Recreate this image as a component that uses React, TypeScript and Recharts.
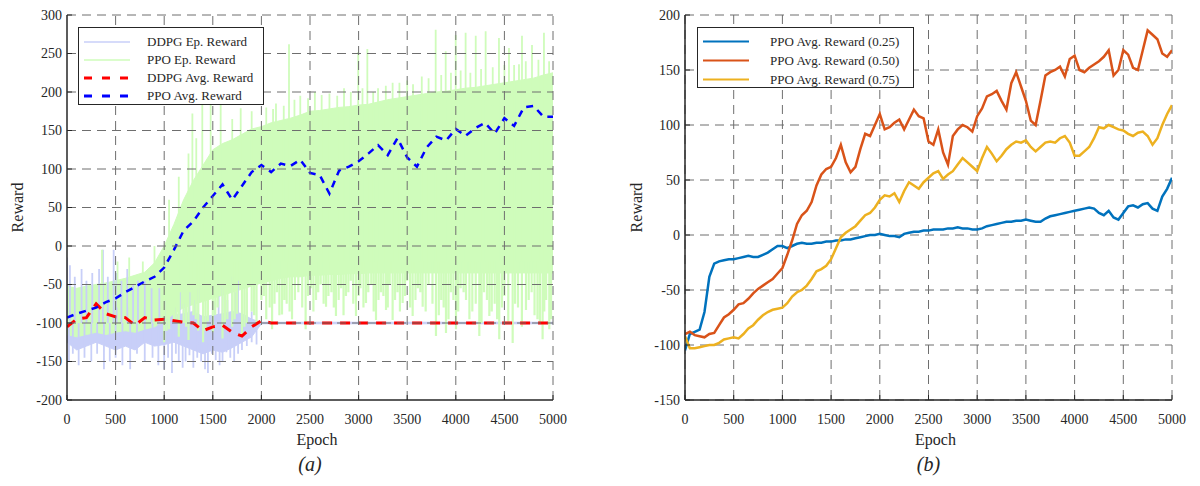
import React from 'react';
import { ComposedChart, LineChart, Line, Area, XAxis, YAxis, CartesianGrid, ReferenceLine, Label } from 'recharts';

const FONT = "'Liberation Serif', 'Times New Roman', Times, serif";
const INK = '#262626';
const GRID = '#6e6e6e';
const DDPG_EP = '#c8cff8';
const PPO_EP = '#cffcbb';
const DDPG_AVG = '#ff0000';
const PPO_AVG = '#0000ff';
const C25 = '#0072bd';
const C50 = '#d95319';
const C75 = '#edb120';

// ---------- Chart (a) ----------
const epochsA = [0, 100, 200, 300, 400, 500, 600, 700, 800, 900, 1000, 1100, 1200, 1300, 1400, 1500, 1600, 1700, 1800, 1900, 2000, 2100, 2200, 2300, 2400, 2500, 2600, 2700, 2800, 2900, 3000, 3100, 3200, 3300, 3400, 3500, 3600, 3700, 3800, 3900, 4000, 4100, 4200, 4300, 4400, 4500, 4600, 4700, 4800, 4900, 5000];

const ddpgEpLow = [-125, -135, -130, -125, -130, -135, -130, -135, -125, -130, -128, -125, -130, -135, -140, -135, -138, -132, -125, -118, -101,
  -101, -101, -101, -101, -101, -101, -101, -101, -101, -101, -101, -101, -101, -101, -101, -101, -101, -101, -101, -101, -101, -101, -101, -101, -101, -101, -101, -101, -101, -101];
const ddpgEpHigh = [-50, -60, -55, -55, -55, -60, -60, -65, -70, -70, -80, -90, -88, -85, -92, -90, -88, -85, -88, -95, -99,
  -99, -99, -99, -99, -99, -99, -99, -99, -99, -99, -99, -99, -99, -99, -99, -99, -99, -99, -99, -99, -99, -99, -99, -99, -99, -99, -99, -99, -99, -99];

const ppoEpLow = [-115, -118, -115, -112, -115, -112, -110, -112, -108, -105, -98,
  -88, -80, -76, -72, -68, -64, -60, -56, -52, -48,
  -45, -42, -40, -40, -38, -38, -37, -37, -36, -36,
  -35, -35, -35, -35, -35, -35, -35, -35, -35, -35,
  -35, -35, -35, -35, -35, -35, -35, -35, -35, -35];
const ppoEpHigh = [-52, -55, -52, -50, -48, -45, -42, -38, -34, -22, 0,
  28, 60, 85, 105, 125, 133, 138, 145, 152, 155,
  160, 163, 166, 170, 175, 176, 178, 180, 181, 183,
  184, 187, 190, 192, 194, 196, 198, 200, 201, 203,
  205, 206, 208, 210, 212, 214, 216, 218, 222, 225];

const ddpgAvg = [-105, -95, -93, -75, -88, -92, -93, -103, -93, -96, -95,
  -97, -99, -100, -110, -105, -103, -112, -117, -105, -97,
  -100, -100, -100, -100, -100, -100, -100, -100, -100, -100,
  -100, -100, -100, -100, -100, -100, -100, -100, -100, -100,
  -100, -100, -100, -100, -100, -100, -100, -100, -100, -100];
const ppoAvg = [-93, -88, -84, -80, -73, -68, -60, -53, -46, -40, -28,
  -5, 20, 32, 50, 65, 80, 60, 78, 96, 105,
  96, 107, 104, 112, 95, 92, 68, 98, 103, 110,
  120, 131, 118, 140, 115, 103, 128, 142, 137, 152,
  143, 153, 160, 146, 166, 156, 180, 182, 168, 168];

// single-episode spikes: epoch and tip value
const ddpgUpEpochs = [0, 30, 80, 150, 200, 260, 330, 370, 420, 480, 510, 560, 620, 680, 730, 800, 870, 950, 1020, 1050, 1110, 1160, 1200, 1260, 1310, 1350, 1400, 1450, 1520, 1560, 1600, 1650, 1700, 1730, 1760, 1800, 1850, 1900];
const ddpgUpTips = [-15, -25, -40, -30, -45, -35, -30, -5, -40, -5, -35, -45, -30, -50, -45, -45, -55, -55, -70, -65, -80, -60, -75, -60, -70, -55, -78, -60, -72, -65, -50, -70, -40, -60, -45, -70, -60, -85];
const ddpgDownEpochs = [20, 60, 120, 180, 250, 310, 380, 440, 500, 570, 650, 720, 800, 880, 940, 1000, 1040, 1080, 1120, 1150, 1190, 1220, 1260, 1300, 1340, 1380, 1420, 1450, 1490, 1530, 1570, 1600, 1640, 1680, 1720, 1760, 1800, 1850, 1900, 1950];
const ddpgDownTips = [-150, -140, -155, -145, -150, -140, -160, -150, -145, -155, -160, -140, -150, -145, -155, -160, -145, -165, -140, -150, -158, -150, -142, -158, -145, -150, -160, -165, -140, -148, -155, -150, -138, -145, -150, -140, -135, -130, -125, -128];

const ppoEarlyEpochs = [360, 520, 640, 780, 900];
const ppoEarlyTips = [-5, -20, -15, -20, 0];

const ppoUpEpochs = [1050, 1150, 1250, 1290, 1330, 1392, 1478, 1581, 1700, 1787, 1900, 2050, 2120, 2150, 2230, 2284, 2340, 2400, 2480, 2550, 2620, 2700, 2780, 2850, 2920, 2996, 3040, 3090, 3150, 3200, 3280, 3350, 3420, 3500, 3560, 3650, 3720, 3793, 3850, 3896, 3950, 3999, 4050, 4101, 4150, 4205, 4260, 4307, 4380, 4444, 4500, 4547, 4600, 4650, 4681, 4720, 4784, 4850, 4907, 4960];
const ppoUpTips = [60, 90, 120, 172, 140, 188, 185, 185, 165, 179, 175, 180, 178, 185, 182, 262, 190, 195, 192, 200, 196, 198, 195, 205, 200, 252, 205, 256, 200, 205, 208, 212, 212, 215, 210, 220, 218, 281, 222, 253, 225, 274, 228, 277, 225, 273, 230, 279, 232, 270, 235, 257, 235, 236, 273, 240, 261, 242, 277, 240];
const ppoDownEpochs = [1000, 1050, 1100, 1150, 1200, 1250, 1300, 1350, 1400, 1450, 1500, 1550, 1600, 1650, 1700, 1750, 1800, 1850, 1900, 1950,
  2000, 2050, 2110, 2160, 2212, 2260, 2315, 2380, 2455, 2510,
  2562, 2610, 2665, 2720, 2767, 2820, 2870, 2920, 2973, 3020,
  3076, 3130, 3179, 3230, 3282, 3320, 3350, 3400, 3453, 3500,
  3556, 3610, 3659, 3720, 3796, 3850, 3899, 3950, 4002, 4050,
  4105, 4170, 4242, 4290, 4345, 4400, 4447, 4500, 4585, 4640,
  4722, 4780, 4840, 4893, 4930, 4962];
const ppoDownTips = [-125, -108, -95, -118, -100, -122, -90, -110, -125, -98, -112, -80, -120, -95, -105, -88, -115, -100, -85, -103,
  -70, -95, -108, -60, -89, -75, -95, -60, -108, -55,
  -70, -50, -79, -60, -91, -55, -65, -45, -91, -55,
  -74, -50, -96, -60, -83, -50, -96, -60, -74, -45,
  -91, -55, -79, -50, -117, -70, -113, -60, -108, -55,
  -70, -85, -117, -60, -91, -75, -121, -65, -126, -80,
  -83, -60, -95, -121, -70, -108];
const ppoDownEpochsB = [1025, 1125, 1225, 1325, 1425, 1525, 1625, 1725, 1825, 1925,
  2025, 2085, 2135, 2185, 2236, 2290, 2345, 2420, 2480, 2535, 2585, 2640, 2690, 2745, 2795, 2845, 2895, 2945, 3000, 3050,
  3100, 3155, 3205, 3255, 3300, 3375, 3425, 3478, 3530, 3585, 3635, 3690, 3760, 3825, 3875, 3925, 3975, 4025, 4080, 4140,
  4205, 4265, 4320, 4370, 4425, 4475, 4540, 4610, 4680, 4750, 4810, 4865, 4910, 4980];
const ppoDownTipsB = [-110, -100, -105, -95, -110, -90, -100, -95, -105, -90,
  -65, -80, -75, -90, -70, -85, -70, -80, -65, -85, -60, -75, -65, -80, -70, -90, -60, -75, -65, -80,
  -60, -85, -70, -65, -80, -70, -85, -65, -80, -70, -60, -85, -75, -90, -80, -95, -70, -85, -60, -95,
  -75, -100, -70, -85, -95, -80, -100, -75, -105, -70, -90, -100, -85, -95];

const xTicks = [0, 500, 1000, 1500, 2000, 2500, 3000, 3500, 4000, 4500, 5000];
const yTicksA = [-200, -150, -100, -50, 0, 50, 100, 150, 200, 250, 300];
const yTicksB = [-150, -100, -50, 0, 50, 100, 150, 200];

const legendLabelsA = ['DDPG Ep. Reward', 'PPO Ep. Reward', 'DDPG Avg. Reward', 'PPO Avg. Reward'];
const legendColorsA = [DDPG_EP, PPO_EP, DDPG_AVG, PPO_AVG];
const legendDashedA = [false, false, true, true];

// ---------- Chart (b) ----------
const epochsB = [0, 50, 100, 150, 200, 250, 300, 350, 400, 450, 500, 550, 600, 650, 700, 750, 800, 850, 900, 950,
  1000, 1050, 1100, 1150, 1200, 1250, 1300, 1350, 1400, 1450, 1500, 1550, 1600, 1650, 1700, 1750, 1800, 1850, 1900, 1950,
  2000, 2050, 2100, 2150, 2200, 2250, 2300, 2350, 2400, 2450, 2500, 2550, 2600, 2650, 2700, 2750, 2800, 2850, 2900, 2950,
  3000, 3050, 3100, 3150, 3200, 3250, 3300, 3350, 3400, 3450, 3500, 3550, 3600, 3650, 3700, 3750, 3800, 3850, 3900, 3950,
  4000, 4050, 4100, 4150, 4200, 4250, 4300, 4350, 4400, 4450, 4500, 4550, 4600, 4650, 4700, 4750, 4800, 4850, 4900, 4950, 5000];

const reward25 = [-105, -90, -88, -86, -70, -38, -26, -24, -23, -22,
  -22, -21, -20, -19, -20, -20, -18, -16, -13, -10,
  -10, -12, -10, -8, -7, -8, -8, -7, -7, -6,
  -6, -5, -5, -4, -4, -3, -2, -1, 0, 0,
  1, 0, -1, -1, -2, 1, 2, 3, 3, 4,
  4, 5, 5, 5, 6, 6, 7, 6, 6, 5,
  5, 6, 8, 9, 10, 11, 12, 12, 13, 13,
  14, 13, 12, 12, 15, 17, 18, 19, 20, 21,
  22, 23, 24, 25, 24, 20, 18, 22, 16, 14,
  20, 26, 27, 25, 28, 29, 24, 22, 35, 42,
  52];
const reward50 = [-90, -88, -91, -92, -93, -90, -89, -82, -75, -72,
  -68, -63, -62, -58, -53, -49, -46, -43, -40, -35,
  -30, -18, -5, 10, 18, 22, 30, 45, 55, 60,
  62, 70, 82, 66, 57, 62, 78, 92, 90, 100,
  110, 96, 98, 102, 105, 96, 105, 114, 108, 106,
  85, 82, 96, 75, 64, 90, 96, 100, 98, 94,
  108, 115, 126, 128, 131, 122, 114, 138, 148, 135,
  122, 104, 100, 122, 145, 148, 150, 153, 144, 160,
  163, 150, 148, 152, 155, 158, 162, 168, 145, 150,
  168, 164, 152, 150, 168, 186, 182, 178, 165, 162,
  168];
const reward75 = [-92, -103, -103, -102, -101, -100, -100, -98, -95, -94,
  -93, -94, -90, -85, -82, -77, -73, -70, -68, -67,
  -66, -62, -56, -52, -50, -46, -40, -33, -31, -28,
  -22, -12, -2, 2, 5, 8, 13, 18, 20, 25,
  32, 36, 35, 38, 30, 40, 48, 45, 42, 48,
  52, 56, 58, 51, 55, 58, 64, 70, 66, 62,
  58, 70, 80, 74, 67, 72, 78, 82, 85, 84,
  86, 80, 76, 80, 84, 85, 84, 88, 90, 84,
  72, 72, 76, 80, 88, 98, 97, 100, 98, 96,
  95, 92, 90, 93, 94, 90, 82, 88, 100, 110,
  118];

const legendLabelsB = ['PPO Avg. Reward (0.25)', 'PPO Avg. Reward (0.50)', 'PPO Avg. Reward (0.75)'];
const legendColorsB = [C25, C50, C75];

// ---------- data assembly ----------
const dataA = epochsA.map((e, i) => ({
  e,
  ddpgBand: [ddpgEpLow[i], ddpgEpHigh[i]],
  ppoBand: [ppoEpLow[i], ppoEpHigh[i]],
  ddpgAvg: ddpgAvg[i],
  ppoAvg: ppoAvg[i],
}));

const segments = (eps: number[], tips: number[], base: number) =>
  eps.flatMap((e, i) => [{ e, v: base }, { e, v: tips[i] }, { e, v: null as number | null }]);

const ddpgSpikes = [...segments(ddpgUpEpochs, ddpgUpTips, -100), ...segments(ddpgDownEpochs, ddpgDownTips, -100)];
const ppoUpSpikes = [...segments(ppoEarlyEpochs, ppoEarlyTips, -80), ...segments(ppoUpEpochs, ppoUpTips, -20)];
const ppoDownSpikes = [...segments(ppoDownEpochs, ppoDownTips, -20), ...segments(ppoDownEpochsB, ppoDownTipsB, -20)];

const dataB = epochsB.map((e, i) => ({ e, r25: reward25[i], r50: reward50[i], r75: reward75[i] }));

// ---------- axis pieces ----------
const X_MARGIN = 14;
const Y_MARGIN = 5;
const textStyle = { fontFamily: FONT };

const XTick = (p: any) => {
  const { x, y, payload } = p;
  return (
    <g>
      <line x1={x} x2={x} y1={y - X_MARGIN} y2={y - X_MARGIN - 5} stroke={INK} strokeWidth={1} />
      <text x={x} y={y} dy="0.71em" textAnchor="middle" style={textStyle} fontSize={14} fill={INK}>{payload.value}</text>
    </g>
  );
};

const YTick = (p: any) => {
  const { x, y, payload } = p;
  return (
    <g>
      <line x1={x + Y_MARGIN} x2={x + Y_MARGIN + 5} y1={y} y2={y} stroke={INK} strokeWidth={1} />
      <text x={x} y={y} dy="0.35em" textAnchor="end" style={textStyle} fontSize={14} fill={INK}>{payload.value}</text>
    </g>
  );
};

const xTitle = (title: string, tag: string) => (props: any) => {
  const vb = props.viewBox;
  const cx = vb.x + vb.width / 2;
  return (
    <g>
      <text x={cx + 7} y={vb.y + 45} textAnchor="middle" style={textStyle} fontSize={16} fill={INK}>{title}</text>
      <text x={cx} y={vb.y + 71} textAnchor="middle" style={textStyle} fontSize={20} fontStyle="italic" fill={INK}>{tag}</text>
    </g>
  );
};

const yTitle = (title: string, xPos: number) => (props: any) => {
  const vb = props.viewBox;
  const cy = vb.y + vb.height / 2;
  return (
    <text x={xPos} y={cy} transform={`rotate(-90 ${xPos} ${cy})`} textAnchor="middle" dominantBaseline="central"
      style={textStyle} fontSize={16} fill={INK}>{title}</text>
  );
};

const LegendBox = (props: { left: number; top: number; width: number; height: number; rowH: number; pad: number; textLeft: number; labels: string[]; colors: string[]; dashed: boolean[]; widths: number[] }) => (
  <div style={{
    position: 'absolute', left: props.left, top: props.top, width: props.width, height: props.height,
    border: `1.5px solid ${INK}`, background: '#fff', boxSizing: 'border-box', fontFamily: FONT, fontSize: 13, color: INK,
  }}>
    {props.labels.map((lab, i) => (
      <div key={lab} style={{ position: 'absolute', left: 0, top: props.pad + i * props.rowH, height: props.rowH, width: '100%' }}>
        <svg width={50} height={props.rowH} style={{ position: 'absolute', left: 4, top: 0 }}>
          <line x1={1} x2={47} y1={props.rowH / 2} y2={props.rowH / 2} stroke={props.colors[i]} strokeWidth={props.widths[i]}
            strokeDasharray={props.dashed[i] ? '8 10' : undefined} />
        </svg>
        <span style={{ position: 'absolute', left: props.textLeft, top: 0, lineHeight: `${props.rowH}px`, whiteSpace: 'nowrap', fontFamily: FONT }}>{lab}</span>
      </div>
    ))}
  </div>
);

const ChartA = () => (
  <div style={{ position: 'absolute', left: 0, top: 0, width: 600, height: 486 }}>
    <ComposedChart width={600} height={486} data={dataA} margin={{ top: 15, right: 47, bottom: 0, left: 0 }}>
      <XAxis type="number" dataKey="e" domain={[0, 5000]} ticks={xTicks} interval={0} allowDataOverflow
        height={86} tickLine={false} tickSize={0} tickMargin={X_MARGIN} tick={XTick}
        axisLine={{ stroke: INK, strokeWidth: 1.5 }}>
        <Label content={xTitle('Epoch', '(a)')} />
      </XAxis>
      <YAxis type="number" domain={[-200, 300]} ticks={yTicksA} interval={0} allowDataOverflow
        width={67} tickLine={false} tickSize={0} tickMargin={Y_MARGIN} tick={YTick}
        axisLine={{ stroke: INK, strokeWidth: 1.5 }}>
        <Label content={yTitle('Reward', 17)} />
      </YAxis>
      <Area type="linear" dataKey="ddpgBand" stroke={DDPG_EP} strokeWidth={1} fill={DDPG_EP} fillOpacity={1} dot={false} activeDot={false} isAnimationActive={false} />
      <Line type="linear" data={ddpgSpikes} dataKey="v" stroke={DDPG_EP} strokeWidth={1.8} dot={false} activeDot={false} connectNulls={false} isAnimationActive={false} />
      <Area type="linear" dataKey="ppoBand" stroke={PPO_EP} strokeWidth={1} fill={PPO_EP} fillOpacity={1} dot={false} activeDot={false} isAnimationActive={false} />
      <Line type="linear" data={ppoUpSpikes} dataKey="v" stroke={PPO_EP} strokeWidth={1.8} dot={false} activeDot={false} connectNulls={false} isAnimationActive={false} />
      <Line type="linear" data={ppoDownSpikes} dataKey="v" stroke={PPO_EP} strokeWidth={2.2} dot={false} activeDot={false} connectNulls={false} isAnimationActive={false} />
      <Line type="linear" dataKey="ddpgAvg" stroke={DDPG_AVG} strokeWidth={3} strokeDasharray="10 8" dot={false} activeDot={false} isAnimationActive={false} />
      <Line type="linear" dataKey="ppoAvg" stroke={PPO_AVG} strokeWidth={2.5} strokeDasharray="7 6" dot={false} activeDot={false} isAnimationActive={false} />
      {xTicks.filter((t) => t !== 0).map((t) => (
        <ReferenceLine key={`gx${t}`} x={t} stroke={GRID} strokeDasharray="9 6" strokeWidth={1} />
      ))}
      {yTicksA.filter((t) => t !== -200).map((t) => (
        <ReferenceLine key={`gy${t}`} y={t} stroke={GRID} strokeDasharray="9 6" strokeWidth={1} />
      ))}
    </ComposedChart>
    <LegendBox left={78} top={27} width={186} height={78} rowH={18} pad={5} textLeft={68}
      labels={legendLabelsA} colors={legendColorsA} dashed={legendDashedA} widths={[1.5, 1.5, 3, 3]} />
  </div>
);

const ChartB = () => (
  <div style={{ position: 'absolute', left: 600, top: 0, width: 600, height: 486 }}>
    <LineChart width={600} height={486} data={dataB} margin={{ top: 15, right: 28, bottom: 0, left: 0 }}>
      <CartesianGrid stroke={GRID} strokeDasharray="9 6" />
      <XAxis type="number" dataKey="e" domain={[0, 5000]} ticks={xTicks} interval={0} allowDataOverflow
        height={86} tickLine={false} tickSize={0} tickMargin={X_MARGIN} tick={XTick}
        axisLine={{ stroke: INK, strokeWidth: 1.5 }}>
        <Label content={xTitle('Epoch', '(b)')} />
      </XAxis>
      <YAxis type="number" domain={[-150, 200]} ticks={yTicksB} interval={0} allowDataOverflow
        width={85} tickLine={false} tickSize={0} tickMargin={Y_MARGIN} tick={YTick}
        axisLine={{ stroke: INK, strokeWidth: 1.5 }}>
        <Label content={yTitle('Reward', 36)} />
      </YAxis>
      <Line type="linear" dataKey="r25" stroke={C25} strokeWidth={2.5} dot={false} activeDot={false} isAnimationActive={false} />
      <Line type="linear" dataKey="r50" stroke={C50} strokeWidth={2.5} dot={false} activeDot={false} isAnimationActive={false} />
      <Line type="linear" dataKey="r75" stroke={C75} strokeWidth={2.5} dot={false} activeDot={false} isAnimationActive={false} />
    </LineChart>
    <LegendBox left={97} top={27} width={217} height={61} rowH={19} pad={4} textLeft={72}
      labels={legendLabelsB} colors={legendColorsB} dashed={[false, false, false]} widths={[2, 2, 2]} />
  </div>
);

export default function App() {
  return (
    <div style={{ position: 'absolute', left: 0, top: 0, width: 1200, height: 486, background: '#fff', overflow: 'hidden' }}>
      <ChartA />
      <ChartB />
    </div>
  );
}
